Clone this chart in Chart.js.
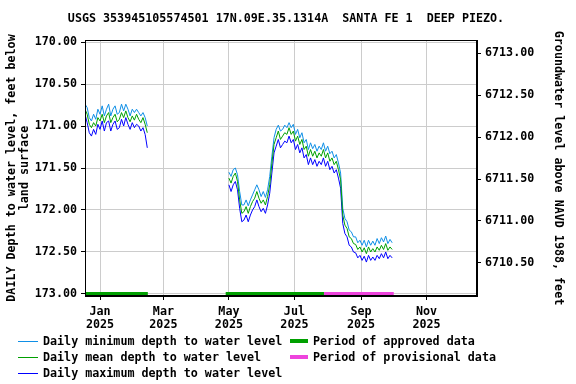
<!DOCTYPE html>
<html lang="en">
<head>
<meta charset="UTF-8">
<title>USGS 353945105574501 SANTA FE 1 DEEP PIEZO.</title>
<script src="https://cdn.jsdelivr.net/npm/chart.js"></script>
<style>
  body { margin: 0; background: #fff; }
  #wrap {
    position: relative; width: 576px; height: 384px;
    font-family: 'DejaVu Sans Mono', monospace; font-weight: bold;
    font-size: 11.7px; color: #000;
  }
  #chart { position: absolute; left: 0; top: 0; }
  .txt { position: absolute; white-space: pre; line-height: 14px; }
  .title { left: 0; width: 572px; top: 11px; text-align: center; }
</style>
</head>
<body>
<div id="wrap">
  <canvas id="chart" width="576" height="384"></canvas>
  <div class="txt title">USGS 353945105574501 17N.09E.35.1314A  SANTA FE 1  DEEP PIEZO.</div>

  <div class="txt" style="left:43px; top:334px">Daily minimum depth to water level</div>
  <div class="txt" style="left:43px; top:350px">Daily mean depth to water level</div>
  <div class="txt" style="left:43px; top:366px">Daily maximum depth to water level</div>
  <div class="txt" style="left:313px; top:334px">Period of approved data</div>
  <div class="txt" style="left:313px; top:350px">Period of provisional data</div>
</div>

<script>
  // days counted from 1 Jan 2025
  const seg1Days = [0,2,4,6,8,10,12,14,16,18,20,22,24,26,28,30,32,34,36,38,40,42,44,46,48,50,52,54,56,58];
  const seg1Min  = [170.74,170.78,170.90,170.94,170.86,170.92,170.80,170.86,170.76,170.88,
                    170.80,170.74,170.88,170.80,170.76,170.86,170.84,170.74,170.82,170.74,
                    170.80,170.88,170.80,170.84,170.80,170.84,170.88,170.84,170.90,171.00];
  const seg1Mean = [170.80,170.86,170.98,171.02,170.96,171.00,170.90,170.94,170.86,170.96,
                    170.88,170.84,170.96,170.90,170.86,170.95,170.92,170.84,170.90,170.82,
                    170.90,170.95,170.88,170.93,170.86,170.92,170.96,170.90,170.98,171.08];
  const seg1Max  = [170.86,170.96,171.08,171.12,171.04,171.10,170.98,171.04,170.94,171.06,
                    170.96,170.94,171.06,170.98,170.94,171.04,171.02,170.92,171.00,170.90,
                    170.98,171.04,170.96,171.02,170.98,171.00,171.06,171.02,171.10,171.26];

  const seg2Days = [134,136,138,140,142,144,146,148,150,152,154,156,158,160,162,164,166,168,170,172,
                    174,176,178,180,182,184,186,188,190,192,194,196,198,200,202,204,206,208,210,212,
                    214,216,218,220,222,224,226,228,230,232,234,236,238,240,242,244,246,248,250,252,
                    254,256,258,260,262,264,266,268,270,272,274,276,278,280,282,284,286];
  const seg2Min  = [171.55,171.60,171.52,171.50,171.58,171.78,171.94,171.94,171.88,171.95,
                    171.88,171.82,171.76,171.70,171.76,171.84,171.78,171.85,171.76,171.60,
                    171.36,171.14,171.04,170.99,171.06,171.04,170.99,171.02,170.96,171.02,
                    170.98,171.10,171.04,171.14,171.08,171.20,171.16,171.28,171.20,171.27,
                    171.22,171.30,171.24,171.28,171.20,171.30,171.24,171.33,171.30,171.38,
                    171.34,171.44,171.56,171.98,172.10,172.14,172.24,172.26,172.32,172.32,
                    172.39,172.36,172.42,172.36,172.44,172.36,172.42,172.37,172.42,172.34,
                    172.40,172.33,172.38,172.31,172.40,172.35,172.39];
  const seg2Mean = [171.62,171.68,171.60,171.56,171.66,171.88,172.04,172.02,171.96,172.04,
                    171.96,171.90,171.86,171.78,171.86,171.92,171.88,171.94,171.84,171.70,
                    171.45,171.22,171.14,171.06,171.16,171.12,171.08,171.10,171.02,171.10,
                    171.06,171.18,171.12,171.22,171.16,171.28,171.24,171.36,171.28,171.36,
                    171.30,171.38,171.32,171.36,171.28,171.38,171.32,171.42,171.38,171.46,
                    171.42,171.52,171.64,172.06,172.18,172.22,172.32,172.34,172.40,172.41,
                    172.47,172.44,172.50,172.45,172.52,172.44,172.50,172.46,172.50,172.44,
                    172.48,172.42,172.47,172.40,172.48,172.44,172.47];
  const seg2Max  = [171.70,171.78,171.70,171.66,171.76,171.98,172.14,172.12,172.06,172.14,
                    172.06,172.00,171.96,171.88,171.96,172.02,171.98,172.04,171.94,171.80,
                    171.56,171.32,171.24,171.16,171.26,171.22,171.18,171.20,171.12,171.20,
                    171.16,171.28,171.22,171.32,171.26,171.38,171.34,171.46,171.38,171.46,
                    171.40,171.48,171.42,171.46,171.38,171.48,171.42,171.52,171.48,171.56,
                    171.52,171.62,171.74,172.16,172.28,172.32,172.42,172.44,172.50,172.51,
                    172.57,172.54,172.60,172.55,172.62,172.54,172.60,172.56,172.60,172.54,
                    172.58,172.52,172.57,172.50,172.58,172.54,172.57];

  const approvedPeriods = [[0, 58.5], [131, 222.5]];
  const provisionalPeriods = [[222.5, 287.5]];

  const monthTickDays = [14, 73, 134, 195, 257, 318];
  const monthTickLabels = [['Jan','2025'],['Mar','2025'],['May','2025'],['Jul','2025'],['Sep','2025'],['Nov','2025']];
  const depthTicks = [170, 170.5, 171, 171.5, 172, 172.5, 173];
  const elevTicks = [6710.5, 6711, 6711.5, 6712, 6712.5, 6713];

  const colMin = '#0f8fe6', colMean = '#00a000', colMax = '#0000ff';
  const colApproved = '#00a000', colProvisional = '#ee44dd';

  function pts(days1, vals1, days2, vals2) {
    const a = days1.map((d, i) => ({x: d, y: vals1[i]}));
    const b = days2.map((d, i) => ({x: d, y: vals2[i]}));
    return a.concat([{x: 96, y: null}], b);
  }
  function bars(periods) {
    const out = [];
    periods.forEach((p, i) => {
      if (i > 0) out.push({x: p[0], y: null});
      out.push({x: p[0], y: 173}, {x: p[1], y: 173});
    });
    return out;
  }

  const font = {family: 'DejaVu Sans Mono', size: 11.7, weight: 'bold', lineHeight: 1.1};
  const lineOpts = {borderWidth: 1, pointRadius: 0, tension: 0, spanGaps: false, yAxisID: 'y'};

  // plot frame + legend keys (legend text is html above)
  const frame = {
    id: 'frame',
    afterDraw(chart) {
      const {ctx, chartArea: a} = chart;
      ctx.save();
      ctx.strokeStyle = '#000';
      ctx.lineWidth = 1;
      ctx.strokeRect(Math.round(a.left) + 0.5, Math.round(a.top) + 0.5,
                     Math.round(a.right - a.left) - 1, Math.round(a.bottom - a.top) - 1);
      [[colMin, 341], [colMean, 357], [colMax, 373]].forEach(([c, y]) => {
        ctx.fillStyle = c;
        ctx.fillRect(18, y, 20, 1);
      });
      [[colApproved, 339], [colProvisional, 355]].forEach(([c, y]) => {
        ctx.fillStyle = c;
        ctx.fillRect(290, y, 18, 4);
      });
      ctx.restore();
    }
  };

  new Chart(document.getElementById('chart'), {
    type: 'line',
    data: {
      datasets: [
        {label: 'Period of approved data', data: bars(approvedPeriods), borderColor: colApproved, ...lineOpts, borderWidth: 4},
        {label: 'Period of provisional data', data: bars(provisionalPeriods), borderColor: colProvisional, ...lineOpts, borderWidth: 4},
        {label: 'Daily mean depth to water level', data: pts(seg1Days, seg1Mean, seg2Days, seg2Mean), borderColor: colMean, ...lineOpts},
        {label: 'Daily minimum depth to water level', data: pts(seg1Days, seg1Min, seg2Days, seg2Min), borderColor: colMin, ...lineOpts},
        {label: 'Daily maximum depth to water level', data: pts(seg1Days, seg1Max, seg2Days, seg2Max), borderColor: colMax, ...lineOpts}
      ]
    },
    options: {
      responsive: false,
      animation: false,
      devicePixelRatio: 1,
      layout: {padding: {top: 40, left: 0, right: 0, bottom: 0}},
      plugins: {legend: {display: false}, title: {display: false}, tooltip: {enabled: false}},
      scales: {
        x: {
          type: 'linear', min: 0, max: 365,
          afterBuildTicks: s => { s.ticks = monthTickDays.map(v => ({value: v})); },
          afterFit: s => { s.height = 88; },
          ticks: {font, color: '#000', padding: 6, maxRotation: 0, autoSkip: false,
                  callback: (v) => monthTickLabels[monthTickDays.indexOf(v)]},
          grid: {color: '#cccccc', tickLength: 4, tickColor: '#000'},
          border: {color: '#000'}
        },
        y: {
          position: 'left', reverse: true, min: 169.976, max: 173.024,
          afterBuildTicks: s => { s.ticks = depthTicks.map(v => ({value: v})); },
          afterFit: s => { s.width = 85; },
          ticks: {font, color: '#000', padding: 4, callback: v => v.toFixed(2)},
          grid: {color: '#cccccc', tickLength: 4, tickColor: '#000'},
          border: {color: '#000'},
          title: {display: true, text: ['DAILY Depth to water level, feet below', 'land surface'],
                  font, color: '#000', padding: {top: 6, bottom: 0}}
        },
        y2: {
          position: 'right', min: 6710.107, max: 6713.155,
          afterBuildTicks: s => { s.ticks = elevTicks.map(v => ({value: v})); },
          afterFit: s => { s.width = 99; },
          ticks: {font, color: '#000', padding: 4, callback: v => v.toFixed(2)},
          grid: {drawOnChartArea: false, tickLength: 4, tickColor: '#000'},
          border: {color: '#000'},
          title: {display: true, text: 'Groundwater level above NAVD 1988, feet',
                  font, color: '#000', padding: {top: 12, bottom: 0}}
        }
      }
    },
    plugins: [frame]
  });
</script>
</body>
</html>
